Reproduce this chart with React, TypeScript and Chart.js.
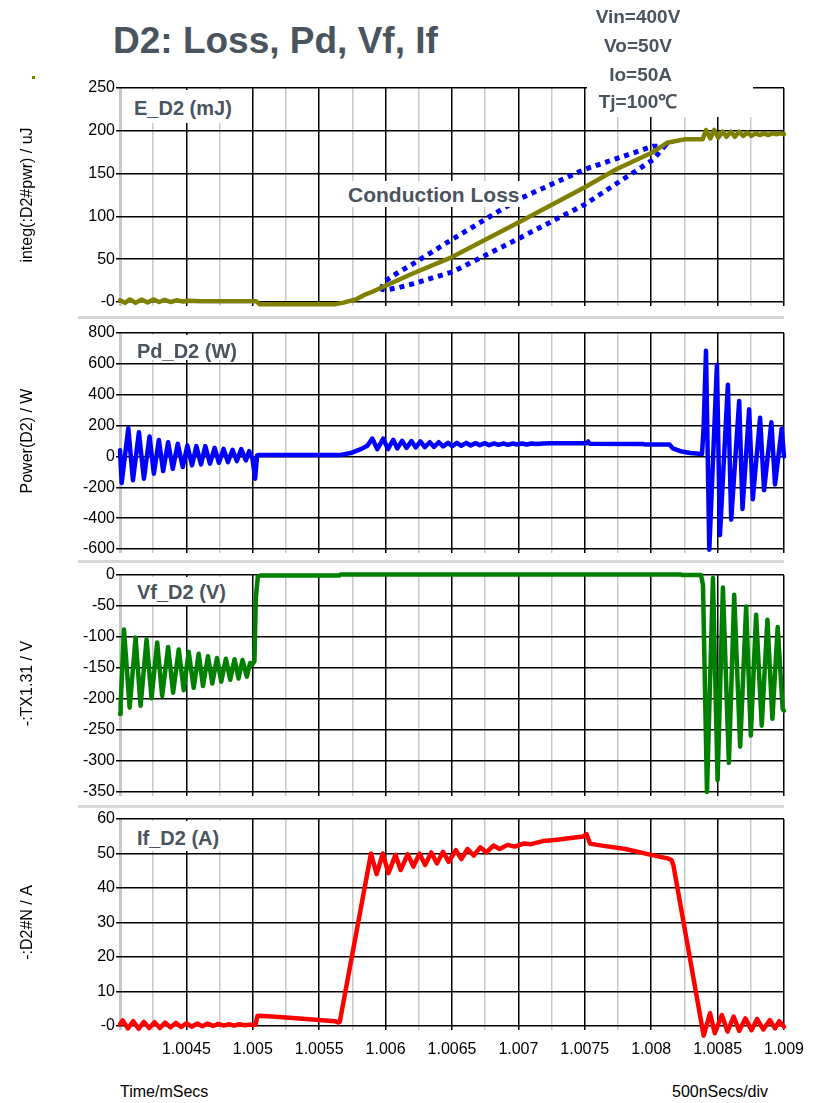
import React, { useEffect, useRef } from 'react';
import { Chart, registerables } from 'chart.js';

Chart.register(...registerables);

const FONT = '"Liberation Sans", Arial, sans-serif';
const TEXT_GRAY = '#4a545e';

// ---- x axis (time, ms) ----
const X_MIN = 1.004;
const X_MAX = 1.009;
const X_MINOR = 0.00025;
const xTickLabels = ['1.0045', '1.005', '1.0055', '1.006', '1.0065', '1.007', '1.0075', '1.008', '1.0085', '1.009'];

// ---- E_D2 (mJ) ----
const eTime = [1.004, 1.0040375, 1.004075, 1.0041175, 1.0041625, 1.0042075, 1.00425, 1.004295, 1.0043375, 1.00438, 1.004425, 1.004475, 1.004525, 1.0046, 1.005025, 1.00505, 1.005625, 1.005675, 1.005775, 1.00585, 1.0059, 1.00595, 1.0062, 1.0065, 1.007, 1.0075, 1.0077375, 1.008, 1.00812, 1.0081875, 1.00825, 1.0083875, 1.0084125, 1.008445, 1.008475, 1.008505, 1.0085375, 1.0085675, 1.0086, 1.00863, 1.0086625, 1.0086925, 1.008725, 1.008755, 1.0087875, 1.0088175, 1.00885, 1.00888, 1.0089125, 1.0089425, 1.008975, 1.009];
const eVal = [2, -1, 3, -1, 3, -0.5, 3, 0, 2.5, 0, 2, 0.5, 1.5, 1, 1, -2.5, -2.5, -1, 3, 9, 12, 15.5, 33, 52.5, 93, 134, 155, 174, 186, 188, 190, 190, 201, 191, 201, 192, 199, 193, 199, 193, 199, 194, 198, 194, 197, 195, 197, 195, 197, 196, 197, 196];

// ---- Conduction loss ellipse outline (time, mJ) ----
const ellipseTime = [1.0059625, 1.006, 1.0061, 1.0062, 1.0065, 1.007, 1.0075, 1.0078625, 1.0080125, 1.0081, 1.0080125, 1.0078625, 1.0075, 1.007, 1.0065, 1.0062, 1.0061, 1.006, 1.0059625];
const ellipseVal = [15, 25, 35, 44, 73, 120, 155, 174, 182, 182, 166, 151, 114, 74, 35, 21, 17, 14, 15];

// ---- Pd_D2 (W) ----
const pdTime = [1.004, 1.0040125, 1.0040625, 1.0040975, 1.0041425, 1.00418, 1.0042225, 1.004255, 1.0042925, 1.004325, 1.0043625, 1.0043975, 1.004435, 1.0044725, 1.0045075, 1.0045425, 1.004575, 1.00461, 1.0046425, 1.0046775, 1.0047125, 1.004745, 1.00478, 1.0048125, 1.0048475, 1.00488, 1.0049125, 1.004948, 1.0049725, 1.0049975, 1.0050175, 1.0050325, 1.0050475, 1.0056625, 1.0057375, 1.0058125, 1.0058625, 1.0059, 1.0059375, 1.0059825, 1.0060175, 1.0060575, 1.0060875, 1.006125, 1.0061575, 1.006195, 1.0062275, 1.0062625, 1.006295, 1.0063325, 1.006365, 1.0064, 1.0064325, 1.00647, 1.0065025, 1.0065375, 1.00657, 1.0066075, 1.00664, 1.0066775, 1.00671, 1.0067475, 1.00678, 1.0068175, 1.00685, 1.0068875, 1.00692, 1.0069575, 1.00699, 1.0070275, 1.0070625, 1.0071, 1.0071375, 1.0071875, 1.0072375, 1.0075125, 1.007525, 1.0075375, 1.0079375, 1.00795, 1.0081375, 1.0081625, 1.00822, 1.008295, 1.0083825, 1.008395, 1.0084125, 1.0084375, 1.008495, 1.0085175, 1.0085775, 1.0086025, 1.0086625, 1.0086875, 1.0087375, 1.008765, 1.00882, 1.00885, 1.008905, 1.0089325, 1.0089825, 1.009];
const pdVal = [40, -172, 183, -155, 157, -144, 129, -112, 107, -95, 92, -80, 82, -69, 71, -58, 67, -52, 67, -47, 56, -41, 49, -37, 43, -30, 47, -26, 34, -15, -144, 6, 10, 10, 22, 47, 69, 116, 47, 116, 47, 108, 52, 101, 56, 99, 58, 97, 60, 92, 62, 92, 65, 88, 67, 88, 69, 88, 71, 86, 73, 86, 73, 84, 75, 84, 75, 84, 77, 84, 77, 84, 80, 84, 86, 86, 97, 82, 80, 78, 78, 52, 34, 22, 15, 190, 685, -605, 595, -510, 465, -410, 360, -340, 305, -278, 250, -220, 222, -182, 180, 0];

// ---- Vf_D2 (V) ----
const vfTime = [1.004, 1.004005, 1.00403, 1.0040725, 1.0041175, 1.004155, 1.0042, 1.0042375, 1.00428, 1.0043175, 1.0043625, 1.0044, 1.0044425, 1.00448, 1.0045175, 1.004555, 1.0045925, 1.004625, 1.0046625, 1.004695, 1.00473, 1.0047625, 1.0047975, 1.00483, 1.0048625, 1.0048925, 1.0049225, 1.004955, 1.00498, 1.0049975, 1.0050125, 1.0050225, 1.0050375, 1.005055, 1.00565, 1.00566, 1.00822, 1.00823, 1.008375, 1.00839, 1.00842, 1.008465, 1.0085, 1.00854, 1.008585, 1.008625, 1.00867, 1.008715, 1.00875, 1.00879, 1.0088325, 1.008875, 1.0089125, 1.0089525, 1.00899, 1.009];
const vfVal = [-224, -208, -88, -214, -101, -211, -104, -199, -109, -195, -116, -190, -120, -186, -124, -182, -127, -179, -131, -175, -134, -172, -135, -169, -136, -167, -137, -164, -142, -144, -139, -37, -3, -1, -1, 1, 1, 0, 0, -16, -350, -5, -331, -20, -303, -32, -277, -51, -259, -64, -243, -72, -232, -84, -216, -219];

// ---- If_D2 (A) ----
const ifTime = [1.004, 1.00402, 1.00406, 1.0041, 1.00414, 1.00418, 1.00422, 1.00426, 1.0043, 1.00434, 1.00438, 1.00442, 1.00446, 1.0045, 1.00454, 1.00458, 1.00462, 1.00466, 1.0047, 1.00474, 1.00478, 1.00482, 1.00486, 1.0049, 1.00494, 1.00498, 1.00502, 1.005035, 1.00505, 1.0052, 1.0054, 1.00562, 1.005645, 1.005655, 1.00589, 1.0059326, 1.0059787, 1.0060213, 1.0060745, 1.0061135, 1.0061667, 1.0062092, 1.0062553, 1.0062978, 1.006344, 1.0063865, 1.0064326, 1.0064752, 1.0065283, 1.0065709, 1.006617, 1.0066631, 1.0067127, 1.0067589, 1.006812, 1.0068582, 1.0069184, 1.0069716, 1.0070426, 1.0070957, 1.0071843, 1.007273, 1.0073794, 1.0074858, 1.0075142, 1.007539, 1.0075922, 1.007805, 1.008, 1.0081241, 1.0081525, 1.0081667, 1.008395, 1.0084433, 1.0084787, 1.0085319, 1.0085745, 1.0086206, 1.0086631, 1.0087092, 1.0087553, 1.0087979, 1.008844, 1.0088936, 1.0089326, 1.0089645, 1.009];
const ifVal = [0.5, 1.6, -0.7, 1.4, -0.8, 1.2, -0.6, 1.1, -0.6, 1.0, -0.4, 0.9, -0.3, 0.8, -0.2, 0.7, -0.1, 0.7, 0.0, 0.6, 0.1, 0.5, 0.1, 0.5, 0.2, 0.4, 0.3, 2.9, 3.0, 2.6, 2.0, 1.4, 1.0, 1.2, 50.0, 44.0, 50.0, 44.3, 49.6, 45.2, 49.8, 46.2, 50.0, 46.7, 50.3, 47.1, 50.5, 47.6, 51.0, 48.4, 51.3, 49.4, 51.8, 50.3, 52.3, 51.3, 52.5, 52.0, 52.9, 52.7, 53.6, 53.9, 54.4, 54.9, 55.6, 52.9, 52.5, 51.3, 49.6, 48.6, 48.1, 46.7, -2.8, 3.7, -2.1, 3.2, -1.6, 2.7, -1.4, 2.2, -1.2, 2.0, -1.0, 1.7, -0.7, 1.4, -0.2];

// ---- y axes [min, max, step] ----
const eAxis = [0, 250, 50];
const pdAxis = [-600, 800, 200];
const vfAxis = [-350, 0, 50];
const ifAxis = [0, 60, 10];

function pts(t: number[], v: number[]) {
  return t.map((x, i) => ({ x, y: v[i] }));
}

function tickIndex(v: number) {
  return Math.round((v - X_MIN) / X_MINOR);
}

type PanelProps = {
  plotTop: number;
  plotH: number;
  bottomAxis: boolean;
  datasets: any[];
  axis: number[];
  yTitle: string;
  zeroLabel: string;
};

function Panel(p: PanelProps) {
  const ref = useRef<HTMLCanvasElement>(null);
  const xAxisH = p.bottomAxis ? 30 : 6;
  const padTop = 15;
  const padBottom = 10;
  const h = p.plotH + padTop + xAxisH + padBottom;
  useEffect(() => {
    const chart = new Chart(ref.current as HTMLCanvasElement, {
      type: 'line',
      data: { datasets: p.datasets },
      options: {
        animation: false,
        responsive: false,
        maintainAspectRatio: false,
        layout: { padding: { left: 0, right: 33, top: padTop, bottom: padBottom } },
        plugins: { legend: { display: false }, tooltip: { enabled: false } },
        elements: { point: { radius: 0 }, line: { tension: 0 } },
        scales: {
          x: {
            type: 'linear',
            min: X_MIN,
            max: X_MAX,
            afterFit: (s: any) => { s.height = xAxisH; },
            border: { display: false },
            grid: {
              color: (ctx: any) => {
                if (!ctx.tick) return '#000';
                const i = tickIndex(ctx.tick.value);
                if (i === 0) return '#c8c8c8';
                return i % 2 === 0 ? '#000' : '#c8c8c8';
              },
              lineWidth: (ctx: any) => {
                if (!ctx.tick) return 1.5;
                const i = tickIndex(ctx.tick.value);
                return i === 0 ? 3 : 1.5;
              },
              tickLength: 4,
            },
            ticks: {
              display: p.bottomAxis,
              stepSize: X_MINOR,
              autoSkip: false,
              maxRotation: 0,
              minRotation: 0,
              padding: 10,
              color: '#000',
              font: { family: FONT, size: 16 },
              callback: (v: any) => {
                const i = tickIndex(Number(v));
                if (i === 0 || i % 2 === 1) return '';
                return xTickLabels[i / 2 - 1];
              },
            },
          },
          y: {
            type: 'linear',
            min: p.axis[0],
            max: p.axis[1],
            afterFit: (s: any) => { s.width = 120; },
            border: { display: false },
            grid: { color: '#000', lineWidth: 1.5, tickLength: 4 },
            ticks: {
              stepSize: p.axis[2],
              padding: 1,
              color: '#000',
              font: { family: FONT, size: 16 },
              callback: (v: any) => (Number(v) === 0 ? p.zeroLabel : String(v)),
            },
            title: {
              display: true,
              text: p.yTitle,
              color: '#000',
              font: { family: FONT, size: 16 },
              padding: { top: 18, bottom: 0 },
            },
          },
        },
      } as any,
    });
    return () => chart.destroy();
  }, []);
  return (
    <canvas
      ref={ref}
      width={817}
      height={h}
      style={{ position: 'absolute', left: 0, top: p.plotTop - padTop, width: 817, height: h }}
    />
  );
}

function line(data: any[], color: string, extra: any = {}) {
  return {
    data,
    borderColor: color,
    backgroundColor: color,
    borderWidth: 4.5,
    pointRadius: 0,
    fill: false,
    clip: false,
    borderJoinStyle: 'round',
    borderCapStyle: 'round',
    ...extra,
  };
}

const boxStyle = (left: number, top: number, width: number, height: number): React.CSSProperties => ({
  position: 'absolute', left, top, width, height, background: '#fff',
});

const textStyle = (left: number, capCenter: number, size: number, extra: React.CSSProperties = {}): React.CSSProperties => ({
  position: 'absolute', left, top: capCenter - size / 2, fontSize: size, lineHeight: `${size}px`,
  fontFamily: FONT, fontWeight: 'bold', color: TEXT_GRAY, whiteSpace: 'nowrap', ...extra,
});

export default function App() {
  return (
    <div style={{ position: 'absolute', left: 0, top: 0, width: 817, height: 1103, background: '#fff', overflow: 'hidden' }}>
      <div style={{ position: 'absolute', left: 78, top: 316, width: 706, height: 3, background: '#d6d6d6' }} />
      <div style={{ position: 'absolute', left: 78, top: 560, width: 706, height: 3, background: '#d6d6d6' }} />
      <div style={{ position: 'absolute', left: 78, top: 805, width: 706, height: 3, background: '#d6d6d6' }} />
      <Panel
        plotTop={88} plotH={214} bottomAxis={false} axis={eAxis}
        yTitle="integ(:D2#pwr) / uJ" zeroLabel="-0"
        datasets={[
          line(pts(eTime, eVal), '#808000'),
          line(pts(ellipseTime, ellipseVal), '#0000ff', { borderWidth: 5, borderDash: [5, 5], borderCapStyle: 'butt', borderJoinStyle: 'miter' }),
        ]}
      />
      <Panel
        plotTop={333} plotH={216} bottomAxis={false} axis={pdAxis}
        yTitle="Power(D2) / W" zeroLabel="0"
        datasets={[line(pts(pdTime, pdVal), '#0000ff')]}
      />
      <Panel
        plotTop={575} plotH={217} bottomAxis={false} axis={vfAxis}
        yTitle="-:TX1.31 / V" zeroLabel="0"
        datasets={[line(pts(vfTime, vfVal), '#008000')]}
      />
      <Panel
        plotTop={819} plotH={207} bottomAxis={true} axis={ifAxis}
        yTitle="-:D2#N / A" zeroLabel="-0"
        datasets={[line(pts(ifTime, ifVal), '#ff0000')]}
      />

      {/* white label boxes */}
      <div style={boxStyle(123, 90, 127, 33)} />
      <div style={boxStyle(123, 335, 127, 25)} />
      <div style={boxStyle(123, 577, 127, 28)} />
      <div style={boxStyle(123, 821, 127, 30)} />
      <div style={boxStyle(345, 181, 177, 26)} />
      <div style={boxStyle(587, 0, 166, 117)} />

      <div style={textStyle(113, 40, 37)}>D2: Loss, Pd, Vf, If</div>
      <div style={textStyle(578, 16, 19, { width: 120, textAlign: 'center' })}>Vin=400V</div>
      <div style={textStyle(578, 45, 19, { width: 120, textAlign: 'center' })}>Vo=50V</div>
      <div style={textStyle(578, 74, 19, { width: 120, textAlign: 'center' })}>{'\u00a0Io=50A'}</div>
      <div style={textStyle(578, 101, 19, { width: 120, textAlign: 'center' })}>Tj=100℃</div>

      <div style={textStyle(134, 108, 20)}>E_D2 (mJ)</div>
      <div style={textStyle(137, 351, 20)}>Pd_D2 (W)</div>
      <div style={textStyle(137, 592, 20)}>Vf_D2 (V)</div>
      <div style={textStyle(137, 838, 20)}>If_D2 (A)</div>
      <div style={textStyle(348, 194, 21)}>Conduction Loss</div>

      <div style={{ position: 'absolute', left: 32, top: 76, width: 3, height: 3, background: '#808000' }} />

      <div style={{ position: 'absolute', left: 120, top: 1084, fontFamily: FONT, fontSize: 16, lineHeight: '16px', color: '#000' }}>Time/mSecs</div>
      <div style={{ position: 'absolute', left: 672, top: 1084, width: 113, overflow: 'hidden', whiteSpace: 'nowrap', fontFamily: FONT, fontSize: 16, lineHeight: '16px', color: '#000' }}>500nSecs/div</div>
    </div>
  );
}
